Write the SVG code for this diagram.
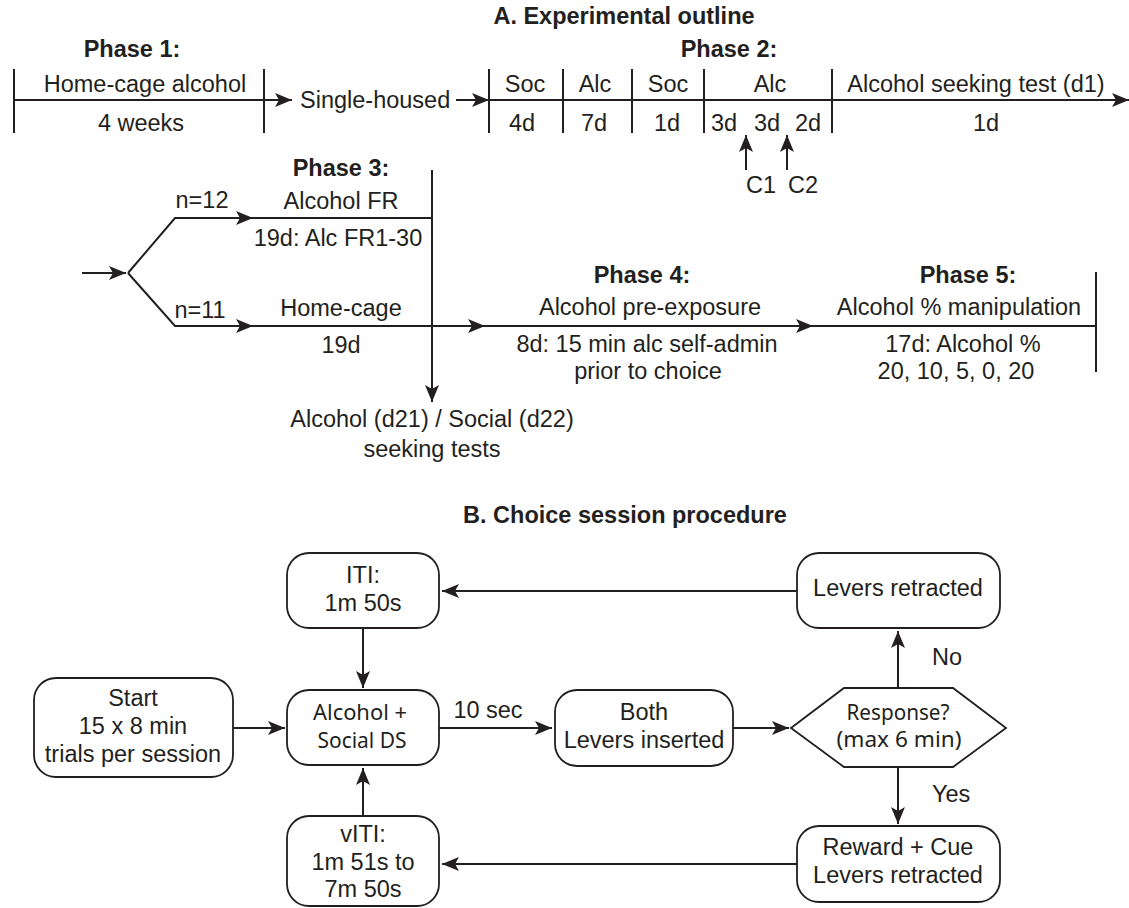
<svg xmlns="http://www.w3.org/2000/svg" width="1129" height="908" viewBox="0 0 1129 908">
<defs>
<style>
text{font-family:"Liberation Sans",Arial,sans-serif;font-size:23.5px;fill:#231f20}
.b{font-weight:bold}
.m{text-anchor:middle}
.my{font-family:"Noto Sans","Liberation Sans",sans-serif;font-size:22px}
.ln{stroke:#231f20;stroke-width:2;fill:none}
.bx{stroke:#231f20;stroke-width:1.8;fill:#fff}
.ar{marker-end:url(#ah)}
</style>
<marker id="ah" viewBox="0 0 17 14" refX="17" refY="7" markerWidth="17" markerHeight="14" markerUnits="userSpaceOnUse" orient="auto">
<path d="M0,0 L17,7 L0,14 L4,7 Z" fill="#231f20"/>
</marker>
</defs>
<rect width="1129" height="908" fill="#fff"/>

<!-- Section A titles -->
<text class="b m" x="624" y="24">A. Experimental outline</text>
<text class="b m" x="132" y="57">Phase 1:</text>
<text class="b m" x="729" y="57">Phase 2:</text>
<text class="b m" x="341" y="176">Phase 3:</text>
<text class="b m" x="642" y="283">Phase 4:</text>
<text class="b m" x="968" y="283">Phase 5:</text>

<g id="connectors">
<!-- row 1 timeline -->
<path class="ln ar" d="M14,100 H292"/>
<path class="ln ar" d="M456,100 H489"/>
<path class="ln ar" d="M489,100 H1129"/>
<path class="ln" d="M14,69 V133 M264,69 V133 M489,69 V133 M563,69 V133 M632,69 V133 M704,69 V133 M832,69 V133"/>
<path class="ln ar" d="M746,170 V135"/>
<path class="ln ar" d="M787,170 V135"/>
<!-- branches -->
<path class="ln ar" d="M82,273 H126"/>
<path class="ln" d="M128,273 L175,218 H431"/>
<path class="ln ar" d="M175,218 H253"/>
<path class="ln" d="M128,273 L175,326 H1096"/>
<path class="ln ar" d="M175,326 H253"/>
<path class="ln ar" d="M400,326 H485"/>
<path class="ln ar" d="M700,326 H813"/>
<path class="ln ar" d="M432,170 V402"/>
<path class="ln" d="M1096,272 V372"/>

<!-- Section B connectors -->
<path class="ln ar" d="M233,728 H285"/>
<path class="ln ar" d="M439,728 H552"/>
<path class="ln ar" d="M733,728 H789"/>
<path class="ln ar" d="M363,628 V688"/>
<path class="ln ar" d="M363,816 V768"/>
<path class="ln ar" d="M797,591 H442"/>
<path class="ln ar" d="M797,864 H442"/>
<path class="ln ar" d="M898,688 V631"/>
<path class="ln ar" d="M898,767 V824"/>
</g>

<!-- Section A labels -->
<g id="phase1">
<text class="m" x="145" y="92">Home-cage alcohol</text>
<text class="m" x="141" y="131">4 weeks</text>
</g>
<g id="single">
<text x="300" y="108">Single-housed</text>
</g>
<g id="phase2">
<text class="m" x="525" y="92">Soc</text>
<text class="m" x="522" y="131">4d</text>
<text class="m" x="595" y="92">Alc</text>
<text class="m" x="594" y="131">7d</text>
<text class="m" x="668" y="92">Soc</text>
<text class="m" x="667" y="131">1d</text>
<text class="m" x="770" y="92">Alc</text>
<text class="m" x="724" y="131">3d</text>
<text class="m" x="767" y="131">3d</text>
<text class="m" x="808" y="131">2d</text>
<text class="m" x="976" y="92">Alcohol seeking test (d1)</text>
<text class="m" x="986" y="131">1d</text>
<text class="m" x="761" y="193">C1</text>
<text class="m" x="803" y="193">C2</text>
</g>
<g id="phase3">
<text class="m" x="202" y="208">n=12</text>
<text class="m" x="341" y="209">Alcohol FR</text>
<text class="m" x="338" y="246">19d: Alc FR1-30</text>
<text class="m" x="200" y="318">n=11</text>
<text class="m" x="341" y="316">Home-cage</text>
<text class="m" x="341" y="353">19d</text>
<text class="m" x="432" y="427">Alcohol (d21) / Social (d22)</text>
<text class="m" x="432" y="457">seeking tests</text>
</g>
<g id="phase4">
<text class="m" x="650" y="315">Alcohol pre-exposure</text>
<text class="m" x="647" y="352">8d: 15 min alc self-admin</text>
<text class="m" x="648" y="379">prior to choice</text>
</g>
<g id="phase5">
<text class="m" x="959" y="315">Alcohol % manipulation</text>
<text class="m" x="963" y="352">17d: Alcohol %</text>
<text class="m" x="956" y="379">20, 10, 5, 0, 20</text>
</g>

<!-- Section B -->
<text class="b m" x="625" y="523">B. Choice session procedure</text>

<g id="start">
<rect class="bx" x="34" y="678" width="199" height="99" rx="22"/>
<text class="m" x="133" y="706">Start</text>
<text class="m" x="133" y="734">15 x 8 min</text>
<text class="m" x="133" y="762">trials per session</text>
</g>
<g id="iti">
<rect class="bx" x="287" y="553" width="152" height="75" rx="22"/>
<text class="m" x="363" y="583">ITI:</text>
<text class="m" x="363" y="611">1m 50s</text>
</g>
<g id="alcsoc">
<rect class="bx" x="287" y="690" width="152" height="75" rx="22"/>
<text class="m my" x="360" y="720" textLength="94" lengthAdjust="spacingAndGlyphs">Alcohol +</text>
<text class="m my" x="362" y="748" textLength="89" lengthAdjust="spacingAndGlyphs">Social DS</text>
</g>
<g id="viti">
<rect class="bx" x="287" y="816" width="152" height="90" rx="22"/>
<text class="m" x="363" y="842">vITI:</text>
<text class="m" x="363" y="870">1m 51s to</text>
<text class="m" x="363" y="897">7m 50s</text>
</g>
<g id="tensec">
<text class="m" x="488" y="718">10 sec</text>
</g>
<g id="both">
<rect class="bx" x="555" y="690" width="178" height="76" rx="22"/>
<text class="m" x="644" y="720">Both</text>
<text class="m" x="644" y="748">Levers inserted</text>
</g>
<g id="response">
<path class="bx" d="M791,728 L844,688 H953 L1006,728 L953,767 H844 Z"/>
<text class="m my" x="898" y="720" textLength="103" lengthAdjust="spacingAndGlyphs">Response?</text>
<text class="m my" x="899" y="747" textLength="125" lengthAdjust="spacingAndGlyphs">(max 6 min)</text>
</g>
<g id="retracted">
<rect class="bx" x="797" y="553" width="203" height="75" rx="22"/>
<text class="m" x="898" y="596">Levers retracted</text>
</g>
<g id="reward">
<rect class="bx" x="797" y="826" width="203" height="76" rx="22"/>
<text class="m" x="898" y="855">Reward + Cue</text>
<text class="m" x="898" y="883">Levers retracted</text>
</g>
<g id="labels">
<text x="932" y="665">No</text>
<text x="932" y="802">Yes</text>
</g>
</svg>
